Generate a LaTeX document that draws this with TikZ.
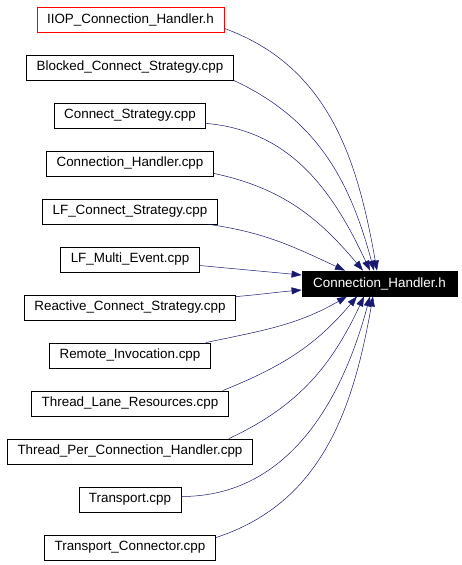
\documentclass[tikz,border=0pt]{standalone}
\usepackage{fontspec}
\setmainfont{Liberation Sans}
\usetikzlibrary{arrows.meta}
\definecolor{edgeblue}{RGB}{25,25,112}

\begin{document}
\begin{tikzpicture}[x=1pt,y=1pt,
  file/.style={draw, line width=0.8pt, minimum height=25pt, inner xsep=10pt, inner ysep=0pt,
    font=\fontsize{13.4}{15}\selectfont},
  incl/.style={draw=edgeblue, line width=0.5pt, -{Triangle[length=10pt,width=7pt]}, edgeblue}]
%\draw[gray!35] (0,0) grid[step=48] (461,-565);
\useasboundingbox (0,0) rectangle (461,-565);

\node[file, draw=red] (iiop) at (130.5,-19.5) {IIOP\_Connection\_Handler.h};
\node[file] (bcs)  at (130,-67.5)  {Blocked\_Connect\_Strategy.cpp};
\node[file] (cs)   at (130,-115.5) {Connect\_Strategy.cpp};
\node[file] (chc)  at (130,-163.5) {Connection\_Handler.cpp};
\node[file] (lfcs) at (130,-211.5) {LF\_Connect\_Strategy.cpp};
\node[file] (lfme) at (130,-259.5) {LF\_Multi\_Event.cpp};
\node[file] (rcs)  at (130,-307.5) {Reactive\_Connect\_Strategy.cpp};
\node[file] (ri)   at (130,-355.5) {Remote\_Invocation.cpp};
\node[file] (tlr)  at (130,-403.5) {Thread\_Lane\_Resources.cpp};
\node[file] (tpch) at (130,-451.5) {Thread\_Per\_Connection\_Handler.cpp};
\node[file] (tr)   at (130,-499.5) {Transport.cpp};
\node[file] (tc)   at (130,-547.5) {Transport\_Connector.cpp};

\node[file, fill=black, text=white, minimum width=155pt] (hdr) at (379.5,-283.5) {Connection\_Handler.h};

% includes from above
\draw[incl] ([yshift=4pt]iiop.south east) to[out=-20,in=100] ([xshift=-2.5pt]hdr.north);
\draw[incl] (bcs.south east) to[out=-25,in=105] ([xshift=-5.5pt]hdr.north);
\draw[incl] ([yshift=5pt]cs.south east) to[out=-5,in=115] ([xshift=-9.5pt]hdr.north);
\draw[incl] ([yshift=3pt]chc.south east) to[out=-12,in=130] ([xshift=-16.5pt]hdr.north);
\draw[incl] ([xshift=-9pt]lfcs.south east) to[out=-8,in=155] ([xshift=-34.5pt]hdr.north);
% side
\draw[incl] ([yshift=-6pt]lfme.east) -- ([yshift=8.5pt]hdr.west);
\draw[incl] ([yshift=-2pt]rcs.north east) to[out=5,in=185] ([yshift=-6.5pt]hdr.west);
% includes from below
\draw[incl] ([xshift=-5pt]ri.north east) to[out=12,in=-150] ([xshift=-32.5pt]hdr.south);
\draw[incl] ([xshift=-6pt]tlr.north east) to[out=22,in=-130] ([xshift=-22.5pt]hdr.south);
\draw[incl] ([xshift=-24pt]tpch.north east) to[out=25,in=-115] ([xshift=-15.5pt]hdr.south);
\draw[incl] ([yshift=3pt]tr.east) to[out=0,in=-105] ([xshift=-9.5pt]hdr.south);
\draw[incl] ([yshift=-3pt]tc.north east) to[out=18,in=-100] ([xshift=-6.5pt]hdr.south);

\end{tikzpicture}
\end{document}
